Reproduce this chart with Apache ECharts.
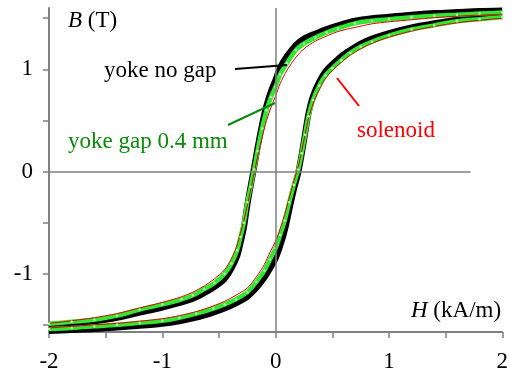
<!DOCTYPE html>
<html>
<head>
<meta charset="utf-8">
<script src="https://cdn.jsdelivr.net/npm/echarts@6/dist/echarts.min.js"></script>
<style>
  html, body { margin: 0; padding: 0; background: #fff; }
  #main { width: 511px; height: 373px; }
</style>
</head>
<body>
<div id="main"></div>
<script>
// H (kA/m) sample points: descending branch (+2 -> -2) and ascending branch (-2 -> +2)
var hDesc = [2.0, 1.8, 1.6, 1.4, 1.2, 1.0, 0.85, 0.7, 0.55, 0.45, 0.35, 0.25, 0.18, 0.10, 0.04, 0.0,
  -0.04, -0.08, -0.12, -0.16, -0.19, -0.22, -0.25, -0.28, -0.31, -0.34, -0.39, -0.45, -0.54, -0.63,
  -0.73, -0.83, -1.0, -1.2, -1.4, -1.6, -1.8, -2.0];
var hAsc = [-2.0, -1.8, -1.6, -1.4, -1.2, -1.0, -0.85, -0.7, -0.55, -0.45, -0.35, -0.25, -0.17, -0.10,
  -0.05, 0.0, 0.04, 0.08, 0.12, 0.16, 0.20, 0.23, 0.26, 0.29, 0.33, 0.385, 0.44, 0.50, 0.58, 0.66,
  0.75, 0.85, 1.0, 1.2, 1.4, 1.6, 1.8, 2.0];

// B (T) - yoke no gap
var noGapDesc = [1.575, 1.57, 1.56, 1.55, 1.535, 1.515, 1.50, 1.475, 1.43, 1.395, 1.35, 1.30, 1.24, 1.13,
  1.02, 0.90, 0.79, 0.65, 0.46, 0.23, 0.04, -0.14, -0.33, -0.55, -0.70, -0.83, -0.95, -1.05, -1.13,
  -1.19, -1.245, -1.28, -1.33, -1.38, -1.43, -1.465, -1.49, -1.515];
var noGapAsc = [-1.56, -1.55, -1.54, -1.525, -1.51, -1.49, -1.465, -1.43, -1.38, -1.34, -1.29, -1.225,
  -1.14, -1.04, -0.95, -0.85, -0.73, -0.58, -0.38, -0.18, -0.01, 0.17, 0.37, 0.57, 0.74, 0.88, 0.98,
  1.05, 1.13, 1.19, 1.25, 1.30, 1.355, 1.41, 1.45, 1.485, 1.51, 1.53];

// B (T) - yoke gap 0.4 mm
var gapDesc = [1.555, 1.545, 1.535, 1.525, 1.51, 1.49, 1.475, 1.45, 1.40, 1.36, 1.31, 1.25, 1.19, 1.06,
  0.95, 0.83, 0.73, 0.60, 0.42, 0.20, 0.02, -0.15, -0.30, -0.50, -0.64, -0.77, -0.90, -1.0, -1.09,
  -1.15, -1.21, -1.25, -1.30, -1.35, -1.41, -1.45, -1.47, -1.49];
var gapAsc = [-1.54, -1.53, -1.515, -1.50, -1.48, -1.46, -1.43, -1.39, -1.34, -1.30, -1.25, -1.18, -1.08,
  -0.97, -0.86, -0.75, -0.62, -0.48, -0.30, -0.13, 0.02, 0.18, 0.36, 0.54, 0.70, 0.84, 0.94, 1.01,
  1.09, 1.16, 1.22, 1.27, 1.33, 1.39, 1.43, 1.47, 1.49, 1.51];

// B (T) - solenoid
var solDesc = [1.54, 1.53, 1.52, 1.505, 1.485, 1.465, 1.445, 1.41, 1.37, 1.325, 1.275, 1.20, 1.12, 0.99,
  0.86, 0.74, 0.63, 0.50, 0.33, 0.14, -0.02, -0.18, -0.33, -0.48, -0.60, -0.72, -0.85, -0.96, -1.05,
  -1.12, -1.18, -1.225, -1.28, -1.335, -1.39, -1.43, -1.46, -1.485];
var solAsc = [-1.53, -1.515, -1.50, -1.485, -1.465, -1.44, -1.41, -1.37, -1.315, -1.27, -1.21, -1.14,
  -1.03, -0.91, -0.79, -0.68, -0.56, -0.42, -0.26, -0.10, 0.05, 0.20, 0.36, 0.52, 0.66, 0.80, 0.91,
  0.99, 1.07, 1.14, 1.20, 1.255, 1.315, 1.375, 1.42, 1.455, 1.48, 1.50];

var xTicks = [-2, -1.5, -1, -0.5, 0, 0.5, 1, 1.5, 2];
var xLabels = [-2, -1, 0, 1, 2];
var yTicks = [-1.5, -1, -0.5, 0, 0.5, 1, 1.5];
var yLabels = [-1, 0, 1];

var serif = '"Liberation Serif", "Times New Roman", serif';

function pairs(h, b) {
  return h.map(function (v, i) { return [v, b[i]]; });
}

function curve(h, b, style) {
  var s = {
    type: 'line',
    data: pairs(h, b),
    smooth: 0.3,
    silent: true,
    showSymbol: false,
    lineStyle: { color: style.color, width: style.width },
    itemStyle: { color: style.color }
  };
  if (style.dots) {
    // light dots sitting inside the green band
    s.showSymbol = true;
    s.showAllSymbol = true;
    s.symbol = 'circle';
    s.symbolSize = 2.5;
    s.itemStyle = { color: '#b8f8b8' };
  }
  return s;
}

var black = { color: '#000000', width: 6 };
var green = { color: '#33e633', width: 4.5, dots: true };
var red = { color: '#e00000', width: 1 };

var myChart = echarts.init(document.getElementById('main'));
var option = {
  animation: false,
  grid: { left: 49, right: 2, top: 8, bottom: 38 },
  xAxis: {
    type: 'value',
    min: -2,
    max: 2,
    axisLine: { show: true, onZero: false, lineStyle: { color: '#808080', width: 2 } },
    axisTick: { show: true, length: 6, customValues: xTicks, lineStyle: { color: '#808080', width: 1.5 } },
    axisLabel: {
      customValues: xLabels, color: '#000', fontFamily: serif, fontSize: 23, margin: 18
    },
    splitLine: { show: false }
  },
  yAxis: {
    type: 'value',
    min: -1.57,
    max: 1.6,
    axisLine: { show: true, onZero: false, lineStyle: { color: '#808080', width: 2 } },
    axisTick: { show: true, length: 6, customValues: yTicks, lineStyle: { color: '#808080', width: 1.5 } },
    axisLabel: {
      customValues: yLabels, color: '#000', fontFamily: serif, fontSize: 23, margin: 16
    },
    splitLine: { show: false }
  },
  series: [
    {
      type: 'line',
      data: [[0, 0]],
      showSymbol: false,
      silent: true,
      markLine: {
        silent: true,
        symbol: 'none',
        label: { show: false },
        lineStyle: { color: '#808080', width: 1.5, type: 'solid' },
        data: [
          [{ coord: [-2, 0] }, { coord: [1.72, 0] }],
          [{ coord: [0, -1.57] }, { coord: [0, 1.6] }]
        ]
      }
    },
    curve(hDesc, noGapDesc, black),
    curve(hAsc, noGapAsc, black),
    curve(hDesc, gapDesc, green),
    curve(hAsc, gapAsc, green),
    curve(hDesc, solDesc, red),
    curve(hAsc, solAsc, red)
  ],
  graphic: [
    {
      type: 'text', x: 68, y: 21,
      style: {
        text: '{i|B} (T)', fill: '#000', fontFamily: serif, fontSize: 23, verticalAlign: 'middle',
        rich: { i: { fontStyle: 'italic', fontFamily: serif, fontSize: 23 } }
      }
    },
    {
      type: 'text', x: 411, y: 311,
      style: {
        text: '{i|H} (kA/m)', fill: '#000', fontFamily: serif, fontSize: 23, verticalAlign: 'middle',
        rich: { i: { fontStyle: 'italic', fontFamily: serif, fontSize: 23 } }
      }
    },
    {
      type: 'text', x: 104, y: 71,
      style: { text: 'yoke no gap', fill: '#000', fontFamily: serif, fontSize: 23, verticalAlign: 'middle' }
    },
    {
      type: 'text', x: 68, y: 142,
      style: { text: 'yoke gap 0.4 mm', fill: '#0a8a0a', fontFamily: serif, fontSize: 23, verticalAlign: 'middle' }
    },
    {
      type: 'text', x: 357, y: 131,
      style: { text: 'solenoid', fill: '#ff0000', fontFamily: serif, fontSize: 23, verticalAlign: 'middle' }
    },
    { type: 'line', shape: { x1: 235, y1: 69, x2: 287, y2: 65 }, style: { stroke: '#000', lineWidth: 2 }, z: 100 },
    { type: 'line', shape: { x1: 228, y1: 125, x2: 275, y2: 103 }, style: { stroke: '#0a8a0a', lineWidth: 2 }, z: 100 },
    { type: 'line', shape: { x1: 337, y1: 78, x2: 359, y2: 106 }, style: { stroke: '#ff0000', lineWidth: 2 }, z: 100 }
  ]
};
myChart.setOption(option);
</script>
</body>
</html>
